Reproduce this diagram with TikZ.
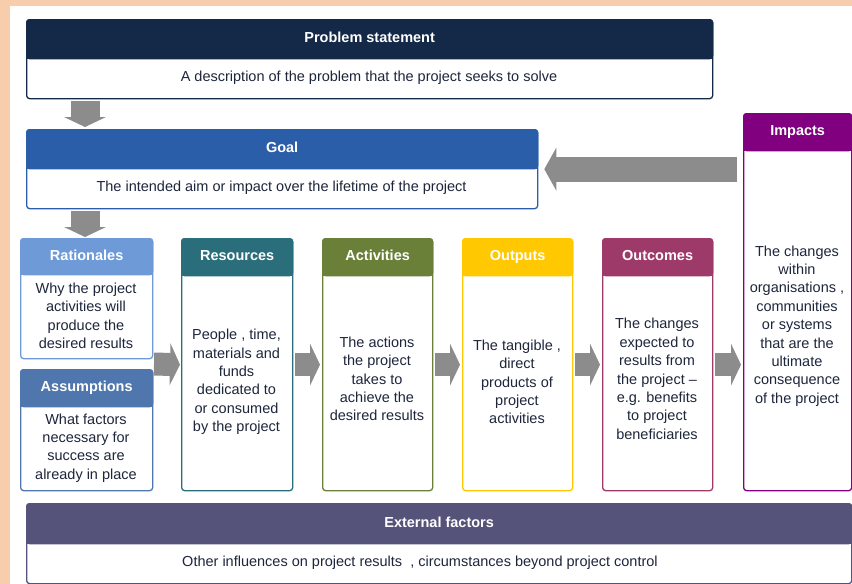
\documentclass[tikz,border=0pt]{standalone}
\usepackage{fontspec}
\setmainfont{Liberation Sans}
\usepackage{tikz}
\usetikzlibrary{positioning, arrows.meta}
\usepackage{xcolor}

\definecolor{peach}{RGB}{247,205,172}
\definecolor{ink}{RGB}{30,38,60}
\definecolor{arrowgray}{RGB}{140,140,140}
\definecolor{probnavy}{RGB}{20,40,72}
\definecolor{goalblue}{RGB}{42,94,168}
\definecolor{imppurple}{RGB}{128,0,128}
\definecolor{ratblue}{RGB}{110,155,216}
\definecolor{assblue}{RGB}{79,118,173}
\definecolor{resteal}{RGB}{42,110,124}
\definecolor{actgreen}{RGB}{106,127,56}
\definecolor{outyellow}{RGB}{255,200,0}
\definecolor{outcpink}{RGB}{158,58,106}
\definecolor{extgrey}{RGB}{85,83,122}

\begin{document}
\begin{tikzpicture}[
    x=1pt, y=-1pt,
    box/.style={draw=#1, line width=1.3pt, rounded corners=3pt, fill=white, inner sep=0pt, anchor=north west},
    head/.style={fill=#1, draw=#1, line width=1.3pt, rounded corners=3pt, text=white, inner sep=0pt, anchor=north west,
                 text height=10.5pt, text depth=3pt, font=\bfseries\fontsize{14.5}{17}\selectfont},
    txt/.style={text=ink, align=center, inner sep=0pt, font=\fontsize{14.5}{18.4}\selectfont},
    flow/.style={draw=arrowgray, line width=23pt, -{Triangle[width=42pt, length=10pt, line width=0pt]}},
    drop/.style={draw=arrowgray, line width=29pt, -{Triangle[width=42pt, length=10pt, line width=0pt]}},
    back/.style={draw=arrowgray, line width=25pt, -{Triangle[width=43pt, length=12pt, line width=0pt]}}
]
\useasboundingbox (0,0) rectangle (852,584);
\fill[peach] (0,0) rectangle (852,584);
\fill[white] (10,6) rectangle (852,584);

% =============================
% 0. Problem statement and goal
% =============================
\node[box=probnavy, minimum width=686, minimum height=79] (prob) at (26,19) {};
\node[head=probnavy, minimum width=686, minimum height=39] (prob-h) at (prob.north west) {Problem statement};
\node[txt] (prob-t) at (369,78) {A description of the problem that the project seeks to solve};

\node[box=goalblue, minimum width=511, minimum height=79] (goal) at (26,129) {};
\node[head=goalblue, minimum width=511, minimum height=39] (goal-h) at (goal.north west) {Goal};
\node[txt] (goal-t) at (281.5,188) {The intended aim or impact over the lifetime of the project};

% =============================
% 1. Left column
% =============================
\node[box=ratblue, minimum width=132, minimum height=120] (rat) at (20,238) {};
\node[head=ratblue, minimum width=132, minimum height=36] (rat-h) at (rat.north west) {Rationales};
\node[txt] (rat-t) at (86,316) {Why the project\\activities will\\produce the\\desired results};

\node[box=assblue, minimum width=132, minimum height=121] (ass) at (20,369) {};
\node[head=assblue, minimum width=132, minimum height=37] (ass-h) at (ass.north west) {Assumptions};
\node[txt] (ass-t) at (86,448) {What factors\\necessary for\\success are\\already in place};

% =============================
% 2. Result chain
% =============================
\node[box=resteal, minimum width=111, minimum height=252] (res) at (181,238) {};
\node[head=resteal, minimum width=111, minimum height=37] (res-h) at (res.north west) {Resources};
\node[txt] (res-t) at (236.5,382) {People , time,\\materials and\\funds\\dedicated to\\or consumed\\by the project};

\node[box=actgreen, minimum width=110, minimum height=252] (act) at (322,238) {};
\node[head=actgreen, minimum width=110, minimum height=37] (act-h) at (act.north west) {Activities};
\node[txt] (act-t) at (377,379) {The actions\\the project\\takes to\\achieve the\\desired results};

\node[box=outyellow, minimum width=110, minimum height=252] (out) at (462,238) {};
\node[head=outyellow, minimum width=110, minimum height=37] (out-h) at (out.north west) {Outputs};
\node[txt] (out-t) at (517,382) {The tangible ,\\direct\\products of\\project\\activities};

\node[box=outcpink, minimum width=110, minimum height=252] (outc) at (602,238) {};
\node[head=outcpink, minimum width=110, minimum height=37] (outc-h) at (outc.north west) {Outcomes};
\node[txt] (outc-t) at (657,379) {The changes\\expected to\\results from\\the project --\\e.g. benefits\\to project\\beneficiaries};

\node[box=imppurple, minimum width=108, minimum height=377] (imp) at (743,113) {};
\node[head=imppurple, minimum width=108, minimum height=37] (imp-h) at (imp.north west) {Impacts};
\node[txt] (imp-t) at (797,326) {The changes\\within\\organisations ,\\communities\\or systems\\that are the\\ultimate\\consequence\\of the project};

% =============================
% 3. External factors
% =============================
\node[box=extgrey, minimum width=825, minimum height=80] (ext) at (26,503) {};
\node[head=extgrey, minimum width=825, minimum height=40] (ext-h) at (ext.north west) {External factors};
\node[txt] (ext-t) at (420,563) {Other influences on project results \ , circumstances beyond project control};

% square off the lower corners of the headers
\foreach \n/\c in {prob/probnavy, goal/goalblue, rat/ratblue, ass/assblue, res/resteal,
                   act/actgreen, out/outyellow, outc/outcpink, imp/imppurple, ext/extgrey}
    \fill[\c] ([yshift=5pt]\n-h.south west) rectangle (\n-h.south east);

% =============================
% 4. Arrows
% =============================
\coordinate (ra) at (152,364);
\draw[drop, shorten <=2pt, shorten >=2pt] ([xshift=59pt]prob.south west) -- ([xshift=59pt]goal.north west);
\draw[drop, shorten <=2pt, shorten >=1pt] ([xshift=59pt]goal.south west) -- ([xshift=59pt]goal.south west |- rat.north);
\draw[back, shorten <=6pt, shorten >=6pt] (imp.west |- goal.east) -- (goal.east);
\draw[flow, shorten <=2pt, shorten >=1pt] (ra) -- (res.west);
\draw[flow, shorten <=2pt, shorten >=2pt] (res.east) -- (act.west);
\draw[flow, shorten <=2pt, shorten >=2pt] (act.east) -- (out.west);
\draw[flow, shorten <=2pt, shorten >=2pt] (out.east) -- (outc.west);
\draw[flow, shorten <=2pt, shorten >=2pt] (outc.east) -- (outc.east -| imp.west);
\end{tikzpicture}
\end{document}
